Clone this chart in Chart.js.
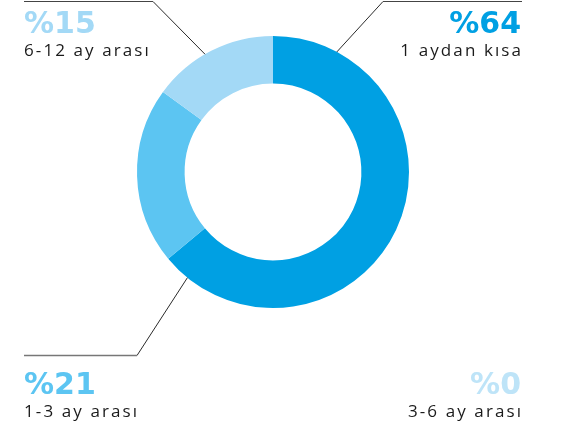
<!DOCTYPE html>
<html>
<head>
<meta charset="utf-8">
<script src="https://cdn.jsdelivr.net/npm/chart.js@4.4.1/dist/chart.umd.min.js"></script>
<style>
    body { margin: 0; background: #fff; }
    #wrap { width: 572px; height: 424px; }
</style>
</head>
<body>
<div id="wrap"><canvas id="myChart" width="572" height="424"></canvas></div>
<script>
// Datos del gráfico
const categorias = ['1 aydan kısa', '3-6 ay arası', '1-3 ay arası', '6-12 ay arası'];
const porcentajes = [64, 0, 21, 15];
const colores = ['rgb(0,160,227)', 'rgb(190,228,248)', 'rgb(92,197,242)', 'rgb(163,217,246)'];

// Etiquetas: dónde va cada texto y su línea guía (ángulo en grados desde arriba, sentido horario)
const etiquetas = [
    { idx: 0, x: 521, y: 33, align: 'right', angulo: 28, codo: [383, 1.5], fin: 522 },
    { idx: 3, x: 24, y: 33, align: 'left', angulo: 330, codo: [153, 1.5], fin: 24 },
    { idx: 2, x: 24, y: 393.5, align: 'left', angulo: 219, codo: [137, 355.5], fin: 24, gris: true },
    { idx: 1, x: 521, y: 393.5, align: 'right' }
];

const ctx = document.querySelector('#myChart');

// Plugin para dibujar los textos y las líneas guía
const etiquetasPlugin = {
    id: 'etiquetas',
    afterDraw(chart) {
        const c = chart.ctx;
        const arc = chart.getDatasetMeta(0).data[0];
        const cx = arc.x, cy = arc.y, r = arc.outerRadius;
        c.save();
        etiquetas.forEach(e => {
            if (e.codo) {
                const a = e.angulo * Math.PI / 180;
                const px = cx + r * Math.sin(a);
                const py = cy - r * Math.cos(a);
                c.lineWidth = 1;
                c.strokeStyle = '#2a2a2a';
                c.beginPath();
                c.moveTo(px, py);
                c.lineTo(e.codo[0], e.codo[1]);
                c.stroke();
                c.strokeStyle = e.gris ? '#777' : '#444';
                c.lineWidth = e.gris ? 1.5 : 1;
                c.beginPath();
                c.moveTo(e.codo[0], e.codo[1]);
                c.lineTo(e.fin, e.codo[1]);
                c.stroke();
            }
            c.textAlign = e.align;
            c.textBaseline = 'alphabetic';
            c.letterSpacing = '0px';
            c.font = 'bold 30px "DejaVu Sans"';
            c.fillStyle = colores[e.idx];
            c.fillText('%' + porcentajes[e.idx], e.x, e.y);
            c.letterSpacing = '2.1px';
            c.font = '500 17px "Open Sans"';
            c.fillStyle = '#1a1a1a';
            c.fillText(categorias[e.idx], e.align === 'right' ? e.x + 2.1 : e.x, e.y + 23);
        });
        c.restore();
    }
};

new Chart(ctx, {
    type: 'doughnut',
    data: {
        labels: categorias,
        datasets: [{
            data: porcentajes,
            backgroundColor: colores,
            borderWidth: 0
        }]
    },
    options: {
        responsive: false,
        animation: false,
        cutout: '65%',
        layout: {
            padding: { left: 137, right: 163, top: 36, bottom: 116 }
        },
        plugins: {
            legend: { display: false },
            tooltip: { enabled: false }
        }
    },
    plugins: [etiquetasPlugin]
});
</script>
</body>
</html>
